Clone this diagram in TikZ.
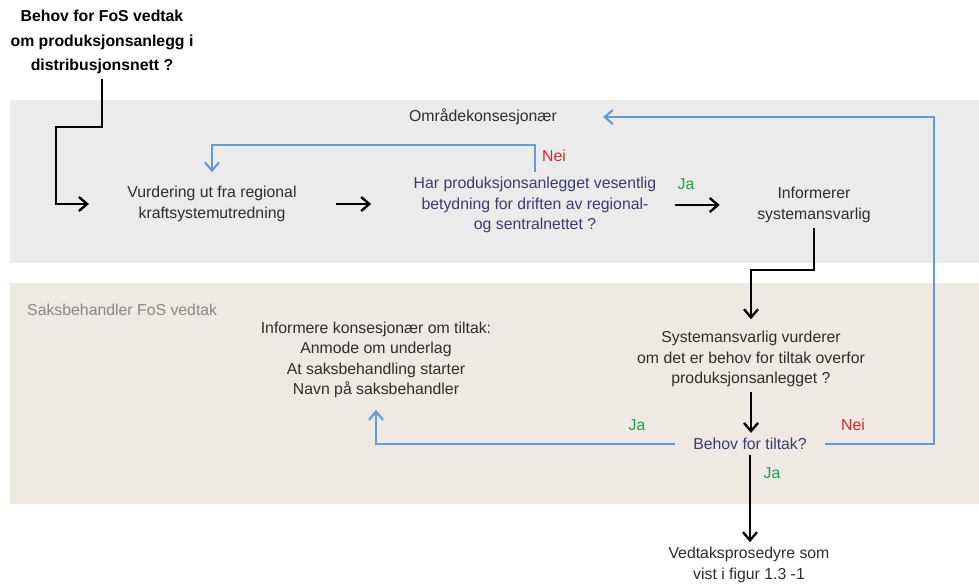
\documentclass[tikz,border=0pt]{standalone}
\usepackage{fontspec}
\setmainfont{Liberation Sans}
\usetikzlibrary{arrows.meta}
\usetikzlibrary{positioning}
\definecolor{lanegray}{RGB}{235,235,235}
\definecolor{lanebeige}{RGB}{238,234,227}
\definecolor{linkblue}{RGB}{102,153,214}
\definecolor{askblue}{RGB}{58,60,110}
\definecolor{yesgreen}{RGB}{34,160,72}
\definecolor{nored}{RGB}{214,40,44}
\definecolor{inkgray}{RGB}{45,45,45}
\definecolor{softgray}{RGB}{135,135,135}
\tikzset{box/.style = {align = center, text = inkgray, inner xsep = 0.55cm, inner ysep = 0.15cm, font = \fontsize{13.5}{17.5}\selectfont}}
\tikzset{ask/.style = {box, text = askblue}}
\tikzset{lane/.style = {inner sep = 0, font = \fontsize{13.5}{17.5}\selectfont}}
\tikzset{yeslabel/.style = {inner sep = 0, text = yesgreen, font = \fontsize{13.5}{16}\selectfont}}
\tikzset{nolabel/.style = {inner sep = 0, text = nored, font = \fontsize{13.5}{16}\selectfont}}
\tikzset{flow/.style = {line width = 1.7pt, black, -{Straight Barb[length = 7pt, width = 12pt, line width = 2pt]}}}
\tikzset{back/.style = {line width = 1.1pt, linkblue, -{Straight Barb[length = 7pt, width = 12pt, line width = 1.8pt]}}}

\begin{document}
\begin{tikzpicture}[x = 0.03cm, y = -0.03cm]
    \useasboundingbox (0, 0) rectangle (979, 583);
    \fill [lanegray] (10, 100) rectangle (979, 263);
    \fill [lanebeige] (10, 283) rectangle (979, 504);

    \node [lane, text = inkgray] (area) at (483, 117) {Områdekonsesjonær};
    \node [lane, text = softgray, anchor = west] (case) at (27, 310) {Saksbehandler FoS vedtak};

    \node [box, text = black, font = \fontsize{13.5}{21}\selectfont\bfseries] (need) at (102, 42) {Behov for FoS vedtak\\om produksjonsanlegg i\\distribusjonsnett ?};
    \node [box] (assess) at (212, 204) {Vurdering ut fra regional\\kraftsystemutredning};
    \node [ask] (sig) at (535, 205) {Har produksjonsanlegget vesentlig\\betydning for driften av regional-\\og sentralnettet ?};
    \node [box] (inform) at (814, 205) {Informerer\\systemansvarlig};
    \node [box] (tso) at (751, 359) {Systemansvarlig vurderer\\om det er behov for tiltak overfor\\produksjonsanlegget ?};
    \node [ask] (need2) at (750, 444) {Behov for tiltak?};
    \node [box] (notify) at (376, 360) {Informere konsesjonær om tiltak:\\Anmode om underlag\\At saksbehandling starter\\Navn på saksbehandler};
    \node [box] (proc) at (749, 565) {Vedtaksprosedyre som\\vist i figur 1.3 -1};

    \node [nolabel] (nei1) at (554, 156) {Nei};
    \node [yeslabel] (ja1) at (686, 184) {Ja};
    \node [yeslabel] (ja2) at (637, 425) {Ja};
    \node [nolabel] (nei2) at (853, 425) {Nei};
    \node [yeslabel] (ja3) at (772, 473) {Ja};

    \draw [flow, shorten > = 0.6cm] (need.south) |- (56, 127) |- (assess.west);
    \draw [flow, shorten < = 0.63cm, shorten > = 0.72cm] (assess.east) -- (assess.east -| sig.west);
    \draw [flow, shorten > = 0.57cm] (sig.east) -- (sig.east -| inform.west);
    \draw [back, shorten > = 0.27cm] (sig.north) -- (sig.north |- 0, 145) -| (assess.north);
    \draw [flow, shorten > = 0.2cm] (inform.south) -- (inform.south |- 0, 270) -| (tso.north);
    \draw [flow] (tso.south) -- (tso.south |- need2.north);
    \draw [back, shorten > = 0.2cm] (need2.west) -| (notify.south);
    \draw [back, shorten > = 1.38cm] (need2.east) -| (934, 117) -- (area.east);
    \draw [flow] (need2.south) -- (need2.south |- proc.north);
\end{tikzpicture}
\end{document}
